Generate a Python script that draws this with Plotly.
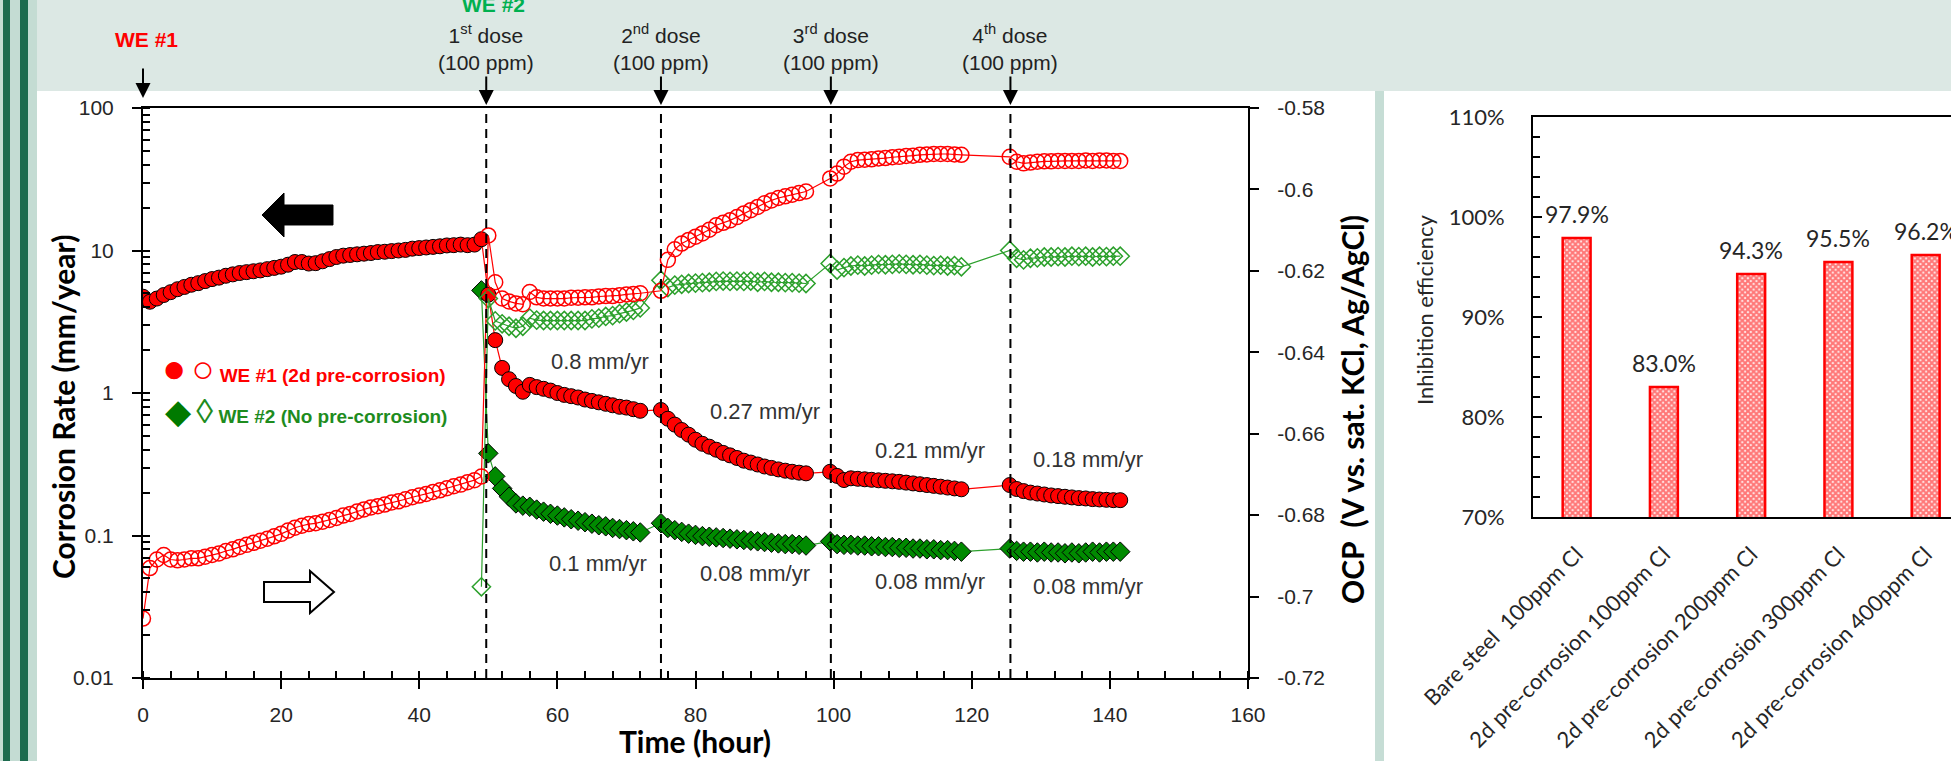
import math
import plotly.graph_objects as go

W, H = 1951, 761

# ---------------- data: main chart ----------------
t_seg_a = [0, 1, 2, 3, 4, 5, 6, 7, 8, 9, 10, 11, 12, 13, 14, 15, 16, 17, 18, 19,
           20, 21, 22, 23, 24, 25, 26, 27, 28, 29, 30, 31, 32, 33, 34, 35, 36, 37, 38, 39,
           40, 41, 42, 43, 44, 45, 46, 47, 48, 49]
t_seg_b = [50, 51, 52, 53, 54, 55, 56, 57, 58, 59, 60, 61, 62, 63, 64, 65, 66, 67, 68, 69,
           70, 71, 72]
t_seg_c = [75, 76, 77, 78, 79, 80, 81, 82, 83, 84, 85, 86, 87, 88, 89, 90, 91, 92, 93, 94,
           95, 96]
t_seg_d = [99.5, 100.5, 101.5, 102.5, 103.5, 104.5, 105.5, 106.5, 107.5, 108.5, 109.5,
           110.5, 111.5, 112.5, 113.5, 114.5, 115.5, 116.5, 117.5, 118.5]
t_seg_e = [125.5, 126.5, 127.5, 128.5, 129.5, 130.5, 131.5, 132.5, 133.5, 134.5, 135.5,
           136.5, 137.5, 138.5, 139.5, 140.5, 141.5]
t_we2_start = [49]

# WE #1 corrosion rate (mm/year)
cr_we1_a = [4.74, 4.37, 4.6, 4.87, 5.1, 5.35, 5.55, 5.75, 5.9, 6.1, 6.3, 6.45, 6.65, 6.8,
            6.95, 7.05, 7.15, 7.25, 7.4, 7.55, 7.7, 7.95, 8.3, 8.3, 8.1, 8.15, 8.4, 8.7,
            9.0, 9.2, 9.3, 9.4, 9.5, 9.6, 9.75, 9.8, 9.9, 10.0, 10.1, 10.3, 10.4, 10.5,
            10.6, 10.7, 10.85, 10.9, 11.0, 10.9, 11.0, 12.0]
cr_we1_b = [4.9, 2.35, 1.5, 1.25, 1.12, 1.02, 1.14, 1.1, 1.07, 1.04, 1.0, 0.97, 0.95, 0.93,
            0.9, 0.88, 0.86, 0.84, 0.82, 0.8, 0.79, 0.77, 0.75]
cr_we1_c = [0.76, 0.66, 0.6, 0.55, 0.51, 0.47, 0.44, 0.42, 0.40, 0.38, 0.365, 0.35, 0.335,
            0.325, 0.315, 0.305, 0.298, 0.291, 0.285, 0.28, 0.276, 0.273]
cr_we1_d = [0.28, 0.262, 0.245, 0.252, 0.25, 0.248, 0.246, 0.244, 0.242, 0.24, 0.238,
            0.235, 0.232, 0.229, 0.226, 0.223, 0.22, 0.217, 0.214, 0.211]
cr_we1_e = [0.226, 0.212, 0.205, 0.2, 0.197, 0.194, 0.191, 0.189, 0.187, 0.185, 0.183,
            0.182, 0.18, 0.179, 0.178, 0.177, 0.177]

# WE #1 OCP (V vs. sat. KCl, Ag/AgCl)
ocp_we1_a = [-0.7054, -0.6930, -0.6909, -0.6898, -0.6909, -0.6911, -0.6909, -0.6906, -0.6906, -0.6902,
             -0.6898, -0.6894, -0.6888, -0.6884, -0.6878, -0.6873, -0.6868, -0.6863, -0.6858, -0.6852,
             -0.6846, -0.6838, -0.6831, -0.6826, -0.6822, -0.6820, -0.6816, -0.6812, -0.6807, -0.6801,
             -0.6797, -0.6791, -0.6786, -0.6781, -0.6778, -0.6774, -0.6769, -0.6766, -0.6761, -0.6756,
             -0.6752, -0.6748, -0.6743, -0.6739, -0.6734, -0.6729, -0.6725, -0.6719, -0.6714, -0.6705]
ocp_we1_b = [-0.6113, -0.6228, -0.6268, -0.6275, -0.6280, -0.6282, -0.6252, -0.6265, -0.6268, -0.6268,
             -0.6268, -0.6268, -0.6266, -0.6266, -0.6265, -0.6265, -0.6263, -0.6262, -0.6262, -0.6260,
             -0.6258, -0.6257, -0.6255]
ocp_we1_c = [-0.6249, -0.6173, -0.6147, -0.6133, -0.6124, -0.6116, -0.6108, -0.6099, -0.6088, -0.6082,
             -0.6076, -0.6068, -0.6059, -0.6051, -0.6043, -0.6034, -0.6027, -0.6021, -0.6017, -0.6013,
             -0.6009, -0.6005]
ocp_we1_d = [-0.5973, -0.5961, -0.5944, -0.5932, -0.5928, -0.5927, -0.5926, -0.5924, -0.5923, -0.5921,
             -0.5920, -0.5918, -0.5917, -0.5915, -0.5914, -0.5913, -0.5913, -0.5913, -0.5914, -0.5915]
ocp_we1_e = [-0.5920, -0.5932, -0.5936, -0.5934, -0.5932, -0.5931, -0.5931, -0.5930, -0.5930, -0.5930,
             -0.5930, -0.5929, -0.5930, -0.5929, -0.5929, -0.5930, -0.5930]

# WE #2 corrosion rate (mm/year)
cr_we2_start = [5.25]
cr_we2_b = [0.377, 0.26, 0.214, 0.187, 0.168, 0.162, 0.159, 0.152, 0.147, 0.142, 0.138, 0.134,
            0.13, 0.127, 0.124, 0.121, 0.118, 0.116, 0.113, 0.111, 0.109, 0.107, 0.105]
cr_we2_c = [0.122, 0.113, 0.109, 0.106, 0.103, 0.101, 0.099, 0.098, 0.097, 0.096, 0.095, 0.094,
            0.093, 0.092, 0.091, 0.09, 0.089, 0.088, 0.087, 0.087, 0.086, 0.085]
cr_we2_d = [0.091, 0.087, 0.086, 0.086, 0.085, 0.085, 0.084, 0.084, 0.083, 0.083, 0.082, 0.082,
            0.081, 0.081, 0.080, 0.080, 0.079, 0.079, 0.078, 0.077]
cr_we2_e = [0.081, 0.078, 0.077, 0.077, 0.076, 0.077, 0.076, 0.076, 0.075, 0.076, 0.075, 0.076,
            0.077, 0.076, 0.077, 0.077, 0.077]

# WE #2 OCP
ocp_we2_start = [-0.6976]
ocp_we2_b = [-0.6268, -0.6323, -0.6330, -0.6336, -0.6341, -0.6336, -0.6316, -0.6321, -0.6322, -0.6322,
             -0.6322, -0.6322, -0.6322, -0.6322, -0.6322, -0.6318, -0.6316, -0.6312, -0.6310, -0.6305,
             -0.6301, -0.6297, -0.6291]
ocp_we2_c = [-0.6223, -0.6241, -0.6235, -0.6233, -0.6231, -0.6230, -0.6229, -0.6228, -0.6226, -0.6225,
             -0.6226, -0.6225, -0.6226, -0.6225, -0.6228, -0.6226, -0.6228, -0.6228, -0.6229, -0.6229,
             -0.6230, -0.6231]
ocp_we2_d = [-0.6182, -0.6198, -0.6192, -0.6188, -0.6186, -0.6188, -0.6186, -0.6184, -0.6185, -0.6184,
             -0.6183, -0.6184, -0.6185, -0.6184, -0.6186, -0.6187, -0.6186, -0.6188, -0.6187, -0.6190]
ocp_we2_e = [-0.6150, -0.6169, -0.6173, -0.6169, -0.6168, -0.6166, -0.6166, -0.6165, -0.6166, -0.6164,
             -0.6165, -0.6164, -0.6166, -0.6164, -0.6165, -0.6164, -0.6164]

dose_times = [49.7, 75.0, 99.6, 125.6]
dose_labels = ["1<sup>st</sup> dose<br>(100 ppm)", "2<sup>nd</sup> dose<br>(100 ppm)",
               "3<sup>rd</sup> dose<br>(100 ppm)", "4<sup>th</sup> dose<br>(100 ppm)"]

rate_labels = ["0.8 mm/yr", "0.1 mm/yr", "0.27 mm/yr", "0.08 mm/yr",
               "0.21 mm/yr", "0.08 mm/yr", "0.18 mm/yr", "0.08 mm/yr"]
rate_label_x = [66.2, 65.9, 90.1, 88.6, 114.0, 114.0, 136.9, 136.9]
rate_label_y = [1.66, 0.064, 0.74, 0.0543, 0.398, 0.0474, 0.339, 0.0437]

cr_tickvals = [0.01, 0.1, 1, 10, 100]
cr_ticktext = ["0.01", "0.1", "1", "10", "100"]
ocp_tickvals = [-0.72, -0.70, -0.68, -0.66, -0.64, -0.62, -0.60, -0.58]
ocp_ticktext = ["-0.72", "-0.7", "-0.68", "-0.66", "-0.64", "-0.62", "-0.6", "-0.58"]

# ---------------- data: bar chart ----------------
bar_categories = ["Bare steel\u00a0 100ppm Cl", "2d pre-corrosion 100ppm Cl",
                  "2d pre-corrosion 200ppm Cl", "2d pre-corrosion 300ppm Cl",
                  "2d pre-corrosion 400ppm Cl"]
bar_values = [0.979, 0.830, 0.943, 0.955, 0.962]
bar_labels = ["97.9%", "83.0%", "94.3%", "95.5%", "96.2%"]
eff_tickvals = [0.7, 0.8, 0.9, 1.0, 1.1]
eff_ticktext = ["70%", "80%", "90%", "100%", "110%"]

# ---------------- assemble ----------------
t_we1 = t_seg_a + t_seg_b + t_seg_c + t_seg_d + t_seg_e
cr_we1 = cr_we1_a + cr_we1_b + cr_we1_c + cr_we1_d + cr_we1_e
ocp_we1 = ocp_we1_a + ocp_we1_b + ocp_we1_c + ocp_we1_d + ocp_we1_e
t_we2 = t_we2_start + t_seg_b + t_seg_c + t_seg_d + t_seg_e
cr_we2 = cr_we2_start + cr_we2_b + cr_we2_c + cr_we2_d + cr_we2_e
ocp_we2 = ocp_we2_start + ocp_we2_b + ocp_we2_c + ocp_we2_d + ocp_we2_e


def px(x):
    return x / W


def py(y):
    return 1 - y / H


RED = "#ff0000"
GREEN_F = "#008a00"
GREEN_O = "#2ca02c"
TICK_FONT = dict(family="Liberation Sans, Arial, sans-serif", size=21, color="#262626")
TITLE_FONT = dict(family="Lato, Open Sans, sans-serif", size=30, color="black")
BAR_FONT = dict(family="Lato, Open Sans, sans-serif", size=22, color="#262626")

fig = go.Figure()

fig.add_trace(go.Scatter(
    x=t_we2, y=ocp_we2, yaxis="y2", xaxis="x", mode="lines+markers",
    line=dict(color=GREEN_O, width=1.2),
    marker=dict(symbol="diamond-open", size=14, color=GREEN_O, line=dict(width=1.5, color=GREEN_O))))
fig.add_trace(go.Scatter(
    x=t_we1, y=ocp_we1, yaxis="y2", xaxis="x", mode="lines+markers",
    line=dict(color=RED, width=1.2),
    marker=dict(symbol="circle-open", size=15, color=RED, line=dict(width=1.5, color=RED))))
fig.add_trace(go.Scatter(
    x=t_we2, y=cr_we2, yaxis="y", xaxis="x", mode="lines+markers",
    line=dict(color=GREEN_O, width=1.2),
    marker=dict(symbol="diamond", size=15, color=GREEN_F, line=dict(width=1, color="black"))))
fig.add_trace(go.Scatter(
    x=t_we1, y=cr_we1, yaxis="y", xaxis="x", mode="lines+markers",
    line=dict(color=RED, width=1.2),
    marker=dict(symbol="circle", size=15, color=RED, line=dict(width=1, color="black"))))

fig.add_trace(go.Bar(
    x=bar_categories, y=bar_values, xaxis="x2", yaxis="y3", width=0.32,
    marker=dict(color="white", line=dict(color=RED, width=2.5),
                pattern=dict(shape="x", fgcolor=RED, bgcolor="#ffecec", size=4, solidity=0.75))))

axis_common = dict(showgrid=False, zeroline=False, showline=True, linecolor="black",
                   linewidth=2, tickcolor="black", automargin=False)

fig.update_layout(
    width=W, height=H, margin=dict(l=0, r=0, t=0, b=0),
    paper_bgcolor="#dce8e4", plot_bgcolor="rgba(0,0,0,0)", showlegend=False,
    xaxis=dict(domain=[px(143), px(1248)], range=[0, 160], anchor="y", dtick=20, tick0=0,
               mirror=True, ticks="outside", ticklen=9, tickwidth=2, tickfont=TICK_FONT,
               ticklabelstandoff=8,
               minor=dict(dtick=4, tick0=0, ticks="inside", ticklen=7, tickwidth=1.5,
                          tickcolor="black"),
               **axis_common),
    yaxis=dict(domain=[py(678), py(108)], type="log", range=[-2, 2], anchor="x",
               tickvals=cr_tickvals, ticktext=cr_ticktext, ticks="outside", ticklen=9,
               tickwidth=2, tickfont=TICK_FONT, ticklabelstandoff=14,
               minor=dict(dtick="D1", ticks="inside", ticklen=7, tickwidth=1.5,
                          tickcolor="black"),
               **axis_common),
    yaxis2=dict(overlaying="y", side="right", anchor="x", range=[-0.72, -0.58],
                tickvals=ocp_tickvals, ticktext=ocp_ticktext, ticks="outside", ticklen=9,
                tickwidth=2, tickfont=TICK_FONT, ticklabelstandoff=14, **axis_common),
    xaxis2=dict(domain=[px(1533), 1.0], anchor="y3", type="category", range=[-0.5, 4.29],
                mirror=True, ticks="", tickangle=-45, tickfont=BAR_FONT,
                ticklabelstandoff=14, **axis_common),
    yaxis3=dict(domain=[py(517), py(117)], anchor="x2", range=[0.7, 1.1],
                tickvals=eff_tickvals, ticktext=eff_ticktext, ticks="inside", ticklen=9,
                tickwidth=2, tickfont=BAR_FONT, ticklabelstandoff=22,
                minor=dict(dtick=0.02, tick0=0.7, ticks="inside", ticklen=7, tickwidth=1.5,
                           tickcolor="black"),
                **axis_common),
)

shapes = []
# background panels
shapes.append(dict(type="rect", xref="paper", yref="paper", x0=px(37), x1=px(1375),
                   y0=0, y1=py(91), fillcolor="white", line=dict(width=0), layer="below"))
shapes.append(dict(type="rect", xref="paper", yref="paper", x0=px(1375), x1=px(1384),
                   y0=0, y1=py(91), fillcolor="#c6ddd5", line=dict(width=0), layer="below"))
shapes.append(dict(type="rect", xref="paper", yref="paper", x0=px(1384), x1=1,
                   y0=0, y1=py(91), fillcolor="white", line=dict(width=0), layer="below"))
# left stripes
for x0, x1, col in [(0, 3, "#c4dcd3"), (3, 10, "#1d6b4f"), (10, 20, "#c4dcd3"),
                    (20, 28, "#1d6b4f"), (28, 37, "#c4dcd3")]:
    shapes.append(dict(type="rect", xref="paper", yref="paper", x0=px(x0), x1=px(x1),
                       y0=0, y1=1, fillcolor=col, line=dict(width=0), layer="below"))
# dose dashed lines
for t in dose_times:
    shapes.append(dict(type="line", xref="x", yref="paper", x0=t, x1=t,
                       y0=py(678), y1=py(108), line=dict(color="black", width=2,
                                                          dash="9px,6px")))


def path_from(points):
    s = "M " + " L ".join(f"{px(a):.5f},{py(b):.5f}" for a, b in points) + " Z"
    return s


black_arrow = [(262, 215), (284, 193), (284, 205), (333, 205), (333, 225), (284, 225),
               (284, 237)]
white_arrow = [(264, 582), (310, 582), (310, 571), (334, 592), (310, 613), (310, 602),
               (264, 602)]
shapes.append(dict(type="path", xref="paper", yref="paper", path=path_from(black_arrow),
                   fillcolor="black", line=dict(color="black", width=1)))
shapes.append(dict(type="path", xref="paper", yref="paper", path=path_from(white_arrow),
                   fillcolor="white", line=dict(color="black", width=2)))

annotations = []


def note(text, x, y, font, **kw):
    d = dict(text=text, xref="paper", yref="paper", x=px(x), y=py(y), showarrow=False,
             xanchor="center", yanchor="middle", font=font)
    d.update(kw)
    annotations.append(d)


# axis titles
note("<b>Time (hour)</b>", 695, 741, TITLE_FONT)
note("<b>Corrosion Rate (mm/year)</b>", 63, 407, TITLE_FONT, textangle=-90)
note("<b>OCP  (V vs. sat. KCl, Ag/AgCl)</b>", 1352, 410, TITLE_FONT, textangle=-90)
note("Inhibition efficiency", 1425, 310, BAR_FONT, textangle=-90)
# header labels
note("<b>WE #1</b>", 146, 40, dict(family="Liberation Sans, Arial", size=21, color=RED))
note("<b>WE #2</b>", 493, 4, dict(family="Liberation Sans, Arial", size=21, color="#00b050"))
for t, lab in zip(dose_times, dose_labels):
    annotations.append(dict(text=lab, xref="x", yref="paper", x=t, y=py(47),
                            xanchor="center", yanchor="middle", showarrow=False,
                            font=dict(family="Liberation Sans, Arial", size=21,
                                      color="#222222")))
    annotations.append(dict(text="", xref="x", yref="paper", x=t, y=py(105),
                            showarrow=True, ax=0, ay=-30, arrowhead=2, arrowsize=1.5,
                            arrowwidth=2, arrowcolor="black", standoff=0))
annotations.append(dict(text="", xref="x", yref="paper", x=0, y=py(98),
                        showarrow=True, ax=0, ay=-31, arrowhead=2, arrowsize=1.5,
                        arrowwidth=2, arrowcolor="black", standoff=0))
# rate labels
for lab, x, y in zip(rate_labels, rate_label_x, rate_label_y):
    annotations.append(dict(text=lab, xref="x", yref="y", x=x, y=math.log10(y),
                            xanchor="center", yanchor="middle", showarrow=False,
                            font=dict(family="Liberation Sans, Arial", size=22,
                                      color="#333333")))
# legend
note(("<span style='font-size:40px'>●</span> <span style='font-size:38px'>○</span>"
      " <b>WE #1 (2d pre-corrosion)</b>"), 160, 368,
     dict(family="Liberation Sans, Arial", size=19, color=RED), xanchor="left")
note(("<span style='font-size:34px;color:#007a00'>◆</span>"
      " <span style='font-size:34px'>◊</span> <b>WE #2 (No pre-corrosion)</b>"), 163, 411,
     dict(family="Liberation Sans, Arial", size=19, color="#1e8c1e"), xanchor="left")
# bar value labels
for cat, v, lab in zip(bar_categories, bar_values, bar_labels):
    annotations.append(dict(text=lab, xref="x2", yref="y3", x=cat, y=v, yshift=24,
                            xanchor="center", yanchor="middle", showarrow=False,
                            font=dict(family="Lato, Open Sans", size=23, color="#262626")))

fig.update_layout(shapes=shapes, annotations=annotations)
fig.write_html("out.html", config={"displayModeBar": False},
               post_script="document.body.style.margin='0';"
                           "document.body.style.overflow='hidden';")
